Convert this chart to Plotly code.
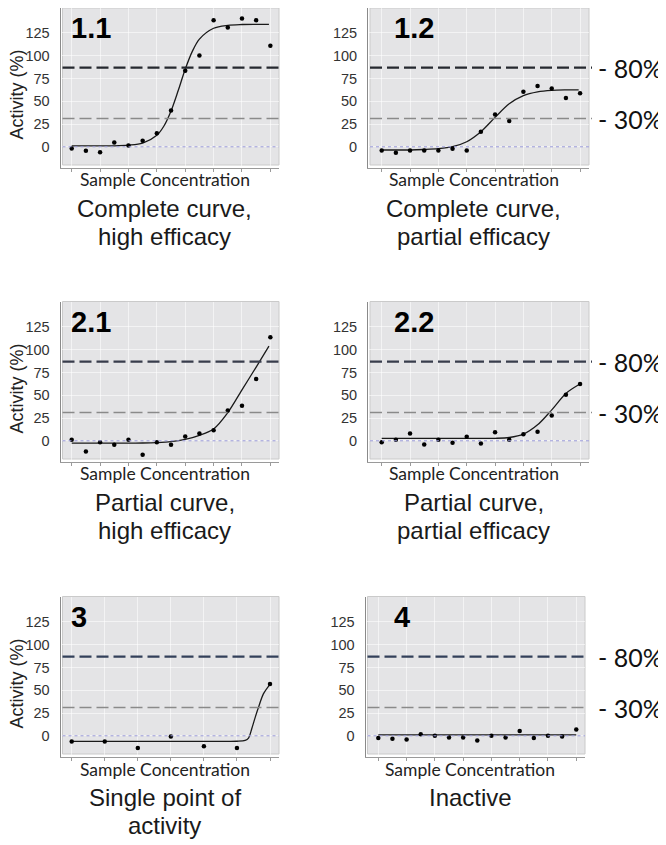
import plotly.graph_objects as go

# page has an 8px body margin: figure drawn in the remaining area
OFF = 8
W, H = 666 - OFF, 845 - OFF

# ---------------- data ----------------
panel_names = ["1.1", "1.2", "2.1", "2.2", "3", "4"]
captions = [
    "Complete curve,<br>high efficacy",
    "Complete curve,<br>partial efficacy",
    "Partial curve,<br>high efficacy",
    "Partial curve,<br>partial efficacy",
    "Single point of<br>activity",
    "Inactive",
]
x_axis_label = "Sample Concentration"
y_axis_label = "Activity (%)"
y_ticks = [0, 25, 50, 75, 100, 125]
thresholds = [87, 31]
threshold_labels = ["- 80%", "- 30%"]

conc_15 = list(range(15))
conc_7 = list(range(7))

act_11 = [-1.8, -4.4, -5.9, 4.8, 1.5, 6.6, 15, 40, 83.5, 100.4, 139, 131, 141, 139, 111]
fit_x_11 = [0, 1, 2, 3, 4, 5, 6, 6.5, 7, 7.5, 8, 8.5, 9, 10, 11, 12, 13, 13.9]
fit_y_11 = [1, 1, 1, 1.1, 1.8, 4.0, 12.6, 22.8, 39.3, 61.5, 85.2, 104.8, 118.3, 130.2, 133.4, 134.3, 134.5, 134.5]

act_12 = [-4, -6.6, -4, -4, -4, -2.2, -4, 16.5, 35.6, 28.2, 60.5, 66.7, 64.1, 53.5, 58.7]
fit_x_12 = [0, 1, 2, 3, 4, 5, 6, 7, 8, 9, 10, 11, 12, 13, 13.9]
fit_y_12 = [-3.5, -3.5, -3.5, -3.0, -2.1, 0.1, 5.5, 16.5, 32.3, 47.2, 56.2, 60.3, 62.0, 62.5, 62.6]

act_21 = [1.1, -11.7, -1.5, -4.4, 1.1, -15.3, -1.5, -4.4, 4.7, 8, 11.7, 33.2, 38.6, 67.8, 113.7]
fit_x_21 = [0, 1, 2, 3, 4, 5, 6, 7, 8, 9, 10, 11, 12, 13, 13.9]
fit_y_21 = [-2.6, -2.6, -2.6, -2.6, -2.5, -2.4, -2.0, -1.0, 1.5, 6, 13, 31, 56, 81, 104]

act_22 = [-1.5, 1.1, 8, -4, 1.1, -2.2, 4.4, -2.9, 9.5, 1.1, 7.3, 9.8, 27.7, 50.7, 62.3]
fit_x_22 = [0, 1, 2, 3, 4, 5, 6, 7, 8, 9, 10, 11, 12, 13, 13.9]
fit_y_22 = [2.6, 2.6, 2.6, 2.6, 2.6, 2.6, 2.6, 2.6, 2.7, 3.6, 7.3, 17.5, 34, 52, 61.5]

act_3 = [-6.2, -6.2, -13.4, -0.7, -11.6, -13.4, 56.9]
fit_x_3 = [0, 1, 2, 3, 4, 5.0, 5.25, 5.35, 5.45, 5.55, 5.65, 5.8, 6.0]
fit_y_3 = [-6.2, -6.2, -6.2, -6.2, -6.2, -6.0, -5.0, -2.5, 8, 20, 31, 46, 56.5]

act_4 = [-2.5, -3.3, -4, 1.8, 0, -1.8, -1.8, -5.1, 0, -1.8, 5.4, -2.5, 0, -0.7, 6.9]
fit_x_4 = [0, 14]
fit_y_4 = [1.1, 1.1]

panel_points = [(conc_15, act_11), (conc_15, act_12), (conc_15, act_21),
                (conc_15, act_22), (conc_7, act_3), (conc_15, act_4)]
panel_fits = [(fit_x_11, fit_y_11), (fit_x_12, fit_y_12), (fit_x_21, fit_y_21),
              (fit_x_22, fit_y_22), (fit_x_3, fit_y_3), (fit_x_4, fit_y_4)]

# ---------------- layout geometry (page pixels) ----------------
# gray area: left, top, right, bottom ; pixel of first point ; spacing between points
boxes = [
    (62.5, 7.5, 279, 165, 71.7, 14.19),
    (370, 7.5, 589, 165, 381.7, 14.17),
    (62.5, 301.5, 279, 459, 71.7, 14.19),
    (370, 301.5, 589, 459, 381.7, 14.17),
    (62.5, 596.5, 279, 754, 71.7, 33.05),
    (367.5, 596.5, 585, 754, 378.3, 14.14),
]
upper_line_colors = ["#25282f", "#25282f", "#383d4c", "#383d4c", "#33405a", "#33405a"]
YMIN, YMAX = -20, 153


def px(x):
    return (x - OFF) / W


def py(y):
    return 1 - (y - OFF) / H


fig = go.Figure()
shapes = []
annotations = []
axes = {}

TXT = "Liberation Sans, Arial, sans-serif"

for k, (box, pts, fit) in enumerate(zip(boxes, panel_points, panel_fits), start=1):
    L, T, R, B, x0, sp = box
    ax_left = L - 2
    ax_bottom = B + 3
    top = max(T, OFF)
    per_px = (YMAX - YMIN) / (B - T)
    yr = [YMIN - (ax_bottom - B) * per_px, YMAX - (top - T) * per_px]
    xr = [(ax_left - x0) / sp, (R - x0) / sp]
    xa = "x" if k == 1 else f"x{k}"
    ya = "y" if k == 1 else f"y{k}"
    xkey = "xaxis" if k == 1 else f"xaxis{k}"
    ykey = "yaxis" if k == 1 else f"yaxis{k}"
    is_left = (k % 2 == 1)

    axes[xkey] = dict(
        domain=[px(ax_left), px(R)], range=xr, anchor=ya,
        showline=True, linecolor="#9a9a9a", linewidth=1,
        ticks="outside", ticklen=3, tickcolor="#9a9a9a",
        tick0=0, dtick=(1 if len(pts[0]) == 7 else 2),
        showticklabels=False, showgrid=True, gridcolor="rgba(255,255,255,0.55)",
        gridwidth=1, zeroline=False, fixedrange=True,
    )
    axes[ykey] = dict(
        domain=[py(ax_bottom), py(top)], range=yr, anchor=xa,
        showline=True, linecolor="#8a8a8a", linewidth=1,
        tickvals=y_ticks, ticks="", ticklabelstandoff=7,
        tickfont=dict(family=TXT, size=14.5, color="#333333"),
        showgrid=True, gridcolor="rgba(255,255,255,0.55)", gridwidth=1,
        zeroline=False, fixedrange=True,
    )

    # gray plotting area
    shapes.append(dict(
        type="rect", xref="paper", yref="paper",
        x0=px(L), x1=px(R), y0=py(B), y1=py(top),
        fillcolor="#e4e4e6", line=dict(color="#cacaca", width=1), layer="below",
    ))
    # zero reference line
    shapes.append(dict(
        type="line", xref="paper", yref=ya, x0=px(L), x1=px(R),
        y0=0, y1=0, line=dict(color="#9a9ad8", width=1, dash="dot"), layer="above",
    ))
    # threshold lines
    for thr, col, wid in zip(thresholds, [upper_line_colors[k-1], "#8a8a8a"], [2.2, 1.6]):
        shapes.append(dict(
            type="line", xref="paper", yref=ya,
            x0=px(L), x1=px(R + 3), y0=thr, y1=thr,
            line=dict(color=col, width=wid, dash="12px,5px"), layer="above",
        ))

    fig.add_trace(go.Scatter(
        x=fit[0], y=fit[1], mode="lines", xaxis=xa, yaxis=ya,
        line=dict(color="#1a1a1a", width=1.3, shape="spline", smoothing=0.9),
        hoverinfo="skip",
    ))
    fig.add_trace(go.Scatter(
        x=pts[0], y=pts[1], mode="markers", xaxis=xa, yaxis=ya,
        marker=dict(color="black", size=4.5),
    ))

    # panel number
    lab_x = L + 6 if is_left else 392
    annotations.append(dict(
        text=f"<b>{panel_names[k-1]}</b>", xref="paper", yref="paper",
        x=px(lab_x), y=py(T + 20), xanchor="left", yanchor="middle",
        showarrow=False, font=dict(family=TXT, size=29, color="black"),
    ))
    # y axis title (left column only, right column is cropped in the original)
    if is_left:
        annotations.append(dict(
            text=y_axis_label, xref="paper", yref="paper",
            x=px(16.5), y=py(T + 87.5), xanchor="center", yanchor="middle",
            textangle=-90, showarrow=False,
            font=dict(family=TXT, size=18, color="#222222"),
        ))
    cx = (L + R) / 2 - 6
    annotations.append(dict(
        text=x_axis_label, xref="paper", yref="paper",
        x=px(cx), y=py(B + 15), xanchor="center", yanchor="middle",
        showarrow=False, font=dict(family="Lato, sans-serif", size=17.5, color="#222222"),
    ))
    for j, line in enumerate(captions[k-1].split("<br>")):
        annotations.append(dict(
            text=line, xref="paper", yref="paper",
            x=px(cx), y=py(B + 43 + 28 * j), xanchor="center", yanchor="middle",
            showarrow=False, font=dict(family=TXT, size=24, color="#1a1a1a"),
        ))
    if not is_left:
        for thr, lab in zip(thresholds, threshold_labels):
            annotations.append(dict(
                text=lab, xref="paper", yref=ya, x=px(596), y=thr,
                xanchor="left", yanchor="middle", showarrow=False,
                font=dict(family="Lato, sans-serif", size=25, color="#111111"),
            ))

fig.update_layout(
    width=W, height=H, margin=dict(l=0, r=0, t=0, b=0),
    paper_bgcolor="white", plot_bgcolor="rgba(0,0,0,0)",
    showlegend=False, shapes=shapes, annotations=annotations, **axes,
)
fig.write_html("out.html")
